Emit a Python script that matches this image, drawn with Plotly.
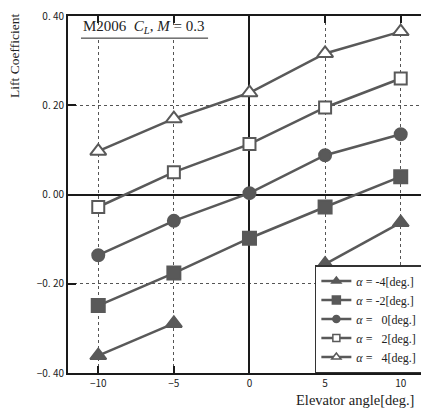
import plotly.graph_objects as go

elevator = [-10, -5, 0, 5, 10]
cl_a_m4 = [-0.361, -0.289, None, -0.156, -0.063]
cl_a_m2 = [-0.249, -0.176, -0.098, -0.028, 0.040]
cl_a_0 = [-0.136, -0.059, 0.003, 0.088, 0.135]
cl_a_2 = [-0.028, 0.050, 0.113, 0.195, 0.260]
cl_a_4 = [0.097, 0.170, 0.228, 0.316, 0.365]

series_names = ["<i>α</i> = -4[deg.]", "<i>α</i> = -2[deg.]", "<i>α</i> = \u20070[deg.]",
                "<i>α</i> = \u20072[deg.]", "<i>α</i> = \u20074[deg.]"]
series_values = [cl_a_m4, cl_a_m2, cl_a_0, cl_a_2, cl_a_4]
symbols = ["triangle-up", "square", "circle", "square", "triangle-up"]
filled = [True, True, True, False, False]
sizes = [14, 13, 12, 12, 14]
legend_sizes = [8, 8, 7, 7, 8]

x_ticks = [-10, -5, 0, 5, 10]
x_ticktext = ["−10", "−5", "0", "5", "10"]
y_ticks = [-0.4, -0.2, 0.0, 0.2, 0.4]
y_ticktext = ["−0. 40", "−0. 20", "0. 00", "0. 20", "0. 40"]

GRAY = "#595959"
fig = go.Figure()
for name, vals, sym, fil, sz, lsz in zip(series_names, series_values, symbols, filled, sizes, legend_sizes):
    fill = GRAY if fil else "white"
    fig.add_trace(go.Scatter(
        x=elevator, y=vals, name=name, mode="lines+markers", showlegend=False,
        connectgaps=False,
        line=dict(color=GRAY, width=2.5),
        marker=dict(symbol=sym, size=sz, color=fill, line=dict(color=GRAY, width=2)),
    ))
    # legend entry with smaller symbol
    fig.add_trace(go.Scatter(
        x=[None], y=[None], name=name, mode="lines+markers", showlegend=True,
        line=dict(color=GRAY, width=2.5),
        marker=dict(symbol=sym, size=lsz, color=fill, line=dict(color=GRAY, width=1.5)),
    ))

# invisible trace to host right-side y ticks
fig.add_trace(go.Scatter(x=[0], y=[0], yaxis="y2", mode="markers",
                         marker=dict(opacity=0), showlegend=False, hoverinfo="skip"))

tickfont = dict(family="Noto Sans CJK JP", size=10, color="#222")
fig.update_layout(
    width=421, height=409,
    margin=dict(l=60, r=0, t=8, b=44),
    paper_bgcolor="white", plot_bgcolor="white",
    showlegend=True,
    legend=dict(x=0.983, y=0.0, xanchor="right", yanchor="bottom",
                bgcolor="white", bordercolor="#333", borderwidth=1.5,
                font=dict(family="Liberation Serif", size=12, color="#222"),
                tracegroupgap=0, itemwidth=30),
    xaxis=dict(range=[-12, 11.87], tickvals=x_ticks, ticktext=x_ticktext,
               tickfont=tickfont, showline=True, linecolor="#1a1a1a", linewidth=2,
               automargin=False,
               mirror="ticks", ticks="inside", ticklen=7, tickwidth=2, tickcolor="#1a1a1a",
               showgrid=True, gridcolor="#555", griddash="dot", gridwidth=1,
               zeroline=True, zerolinecolor="#1a1a1a", zerolinewidth=1.5),
    yaxis=dict(range=[-0.4, 0.4], tickvals=y_ticks, ticktext=y_ticktext,
               tickfont=tickfont, showline=True, linecolor="#1a1a1a", linewidth=2,
               ticklabeloverflow="allow", automargin=False,
               mirror=False, ticks="inside", ticklen=8, tickwidth=2, tickcolor="#1a1a1a",
               showgrid=True, gridcolor="#555", griddash="dot", gridwidth=1,
               zeroline=True, zerolinecolor="#1a1a1a", zerolinewidth=1.5),
    yaxis2=dict(range=[-0.4, 0.4], overlaying="y", side="right", tickvals=y_ticks,
                showticklabels=False, ticks="inside", ticklen=8, tickwidth=2, automargin=False,
                tickcolor="#1a1a1a", showgrid=False, zeroline=False, showline=False),
)

# white box that hides the gridlines behind the title, then the underline
fig.add_shape(type="rect", xref="paper", yref="paper", x0=0.036, x1=0.388, y0=0.938, y1=0.975,
              fillcolor="white", line=dict(width=0), layer="above")
fig.add_shape(type="line", xref="paper", yref="paper", x0=0.036, x1=0.388, y0=0.938, y1=0.938,
              line=dict(color="#222", width=1), layer="above")
fig.add_annotation(text="M2006  <i>C<sub>L</sub></i>, <i>M</i> = 0.3",
                   xref="paper", yref="paper", x=0.036, y=0.969, xanchor="left", yanchor="middle",
                   showarrow=False,
                   font=dict(family="Liberation Serif", size=15, color="#222"))
fig.add_annotation(text="Lift Coefficient", xref="paper", yref="paper", x=-0.147, y=0.888,
                   xanchor="center", yanchor="middle",
                   textangle=-90, showarrow=False,
                   font=dict(family="Liberation Serif", size=13.5, color="#222"))
fig.add_annotation(text="Elevator angle[deg.]", xref="paper", yref="paper", x=0.795, y=-0.0756,
                   showarrow=False, xanchor="center", yanchor="middle",
                   font=dict(family="Liberation Serif", size=14.5, color="#222"))

fig.write_html("out.html")
